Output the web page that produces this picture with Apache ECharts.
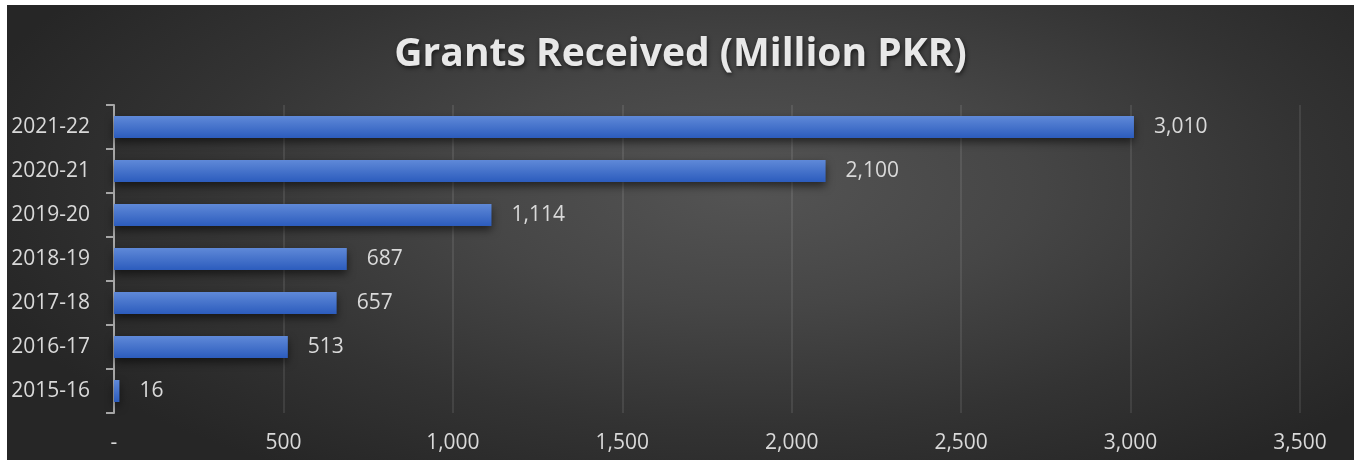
<!DOCTYPE html>
<html>
<head>
<meta charset="utf-8">
<script src="https://cdn.jsdelivr.net/npm/echarts@6/dist/echarts.min.js"></script>
<style>
  html, body { margin: 0; padding: 0; background: #ffffff; }
  #chart {
    position: absolute; left: 7px; top: 5px; width: 1347px; height: 455px;
    background: radial-gradient(ellipse 60% 75% at 55% 40%, #545454 0%, #464646 35%, #333333 70%, #262626 100%);
  }
</style>
</head>
<body>
<div id="chart"></div>
<script>
const titleText = 'Grants Received (Million PKR)';
const categories = ['2015-16', '2016-17', '2017-18', '2018-19', '2019-20', '2020-21', '2021-22'];
const grants = [16, 513, 657, 687, 1114, 2100, 3010];
const axisMin = 0;
const axisMax = 3500;
const axisStep = 500;

const fmt = v => v === 0 ? '-' : v.toLocaleString('en-US');

const chart = echarts.init(document.getElementById('chart'));
chart.setOption({
  backgroundColor: 'transparent',
  textStyle: { fontFamily: 'Open Sans' },
  title: {
    text: titleText,
    left: 'center',
    top: 25,
    textStyle: {
      color: '#e8e8e8', fontSize: 39, fontWeight: 'bold', fontFamily: 'Open Sans',
      textShadowColor: 'rgba(0,0,0,0.6)', textShadowBlur: 4, textShadowOffsetX: 1, textShadowOffsetY: 2
    }
  },
  grid: { left: 107, right: 54, top: 100, bottom: 47, containLabel: false },
  xAxis: {
    type: 'value', min: axisMin, max: axisMax, interval: axisStep,
    axisLine: { show: false }, axisTick: { show: false },
    splitLine: { show: true, lineStyle: { color: 'rgba(255,255,255,0.09)', width: 2 } },
    axisLabel: { color: '#d9d9d9', fontSize: 21, margin: 20, formatter: fmt }
  },
  yAxis: {
    type: 'category', data: categories,
    axisLine: { show: true, lineStyle: { color: '#a6a6a6', width: 2 } },
    axisTick: { show: true, length: 8, lineStyle: { color: '#a6a6a6', width: 2 } },
    axisLabel: { color: '#d9d9d9', fontSize: 21, margin: 24 }
  },
  series: [{
    type: 'bar', data: grants, barWidth: '50%',
    itemStyle: {
      color: new echarts.graphic.LinearGradient(0, 0, 0, 1, [
        { offset: 0, color: '#5f89d8' },
        { offset: 1, color: '#2c5cbd' }
      ]),
      shadowColor: 'rgba(0,0,0,0.55)', shadowBlur: 8, shadowOffsetY: 4
    },
    label: {
      show: true, position: 'right', distance: 20, color: '#d9d9d9', fontSize: 21,
      formatter: p => fmt(p.value)
    }
  }]
});
</script>
</body>
</html>
